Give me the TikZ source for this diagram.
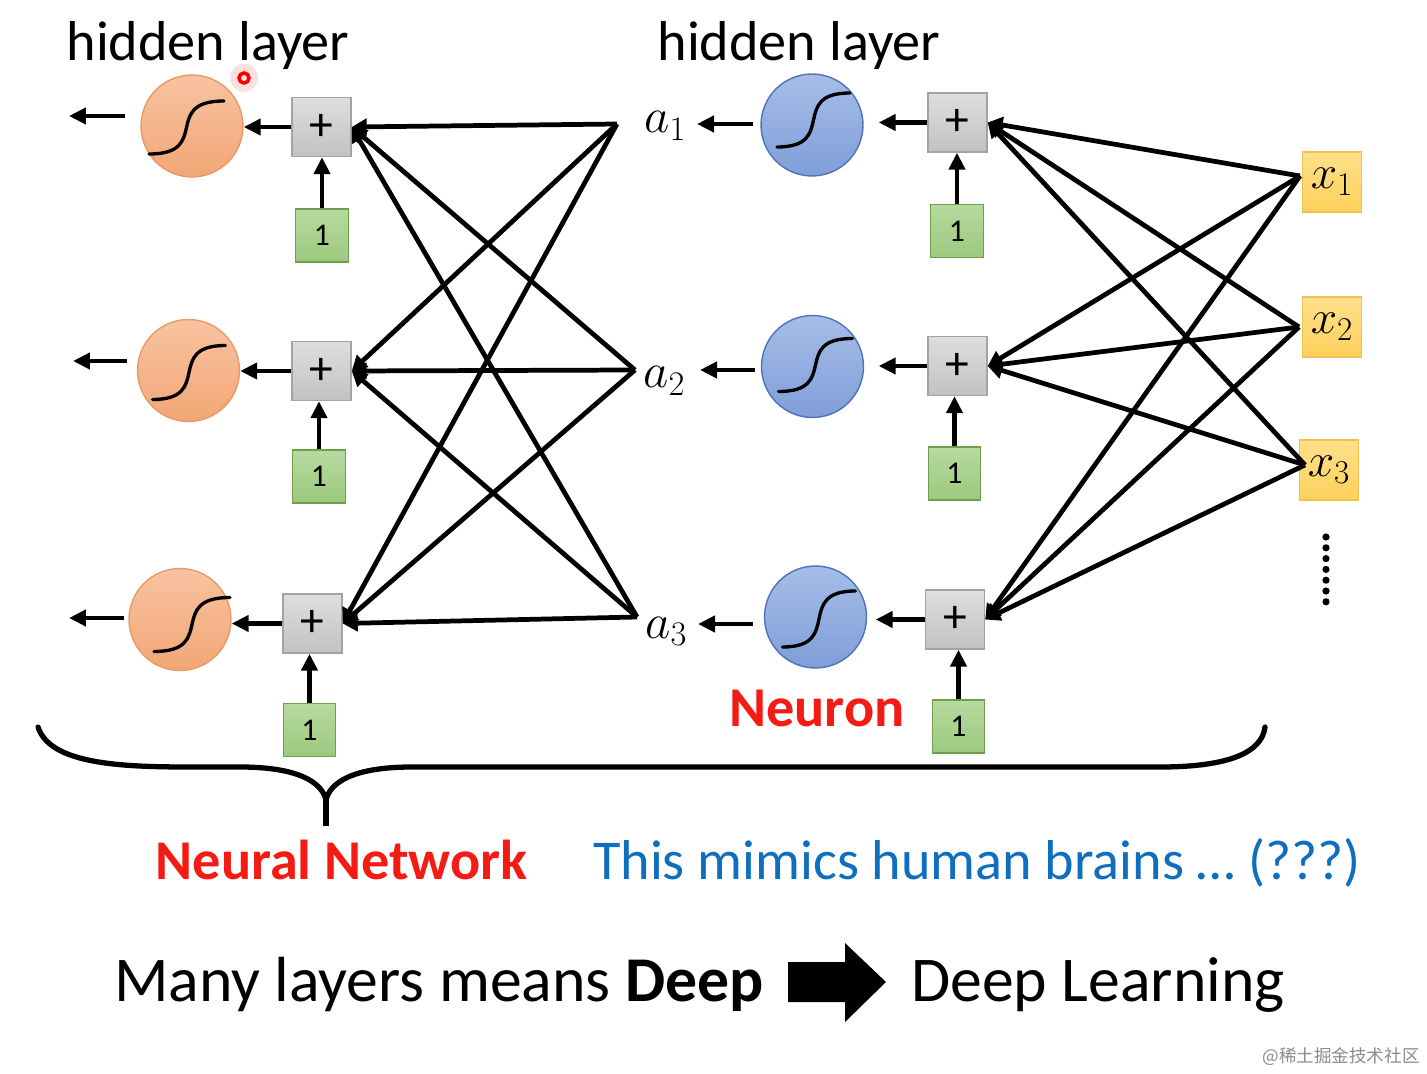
\documentclass[tikz,border=0pt]{standalone}
\usepackage{fix-cm}
\usepackage{fontspec}
\setmainfont{Carlito}
\newfontfamily\cjk{Noto Sans CJK SC}
\usetikzlibrary{arrows.meta,calc}
\definecolor{ortop}{HTML}{F8C3A0}
\definecolor{orbot}{HTML}{F2A676}
\definecolor{orline}{HTML}{E59A68}
\definecolor{bltop}{HTML}{A6BDE8}
\definecolor{blbot}{HTML}{7F9ED8}
\definecolor{blline}{HTML}{4F72B8}
\definecolor{grtop}{HTML}{DEDEDE}
\definecolor{grbot}{HTML}{C2C2C2}
\definecolor{grline}{HTML}{A3A3A3}
\definecolor{gntop}{HTML}{B7DAA0}
\definecolor{gnbot}{HTML}{9CC97E}
\definecolor{gnline}{HTML}{6E9F4C}
\definecolor{yetop}{HTML}{FFE08A}
\definecolor{yebot}{HTML}{FDD05C}
\definecolor{yeline}{HTML}{EEC150}
\definecolor{redtxt}{HTML}{F31B14}
\definecolor{bluetxt}{HTML}{0E6FBE}
\newcommand\sigcurve[5]{%
  \pgfmathsetmacro\sgw{(#4)-(#2)}%
  \draw[sigline,shift={(#1)}] (#2,#3) .. controls ({#2+0.84*\sgw},#3) and ({#4-0.84*\sgw},#5) .. (#4,#5);}
\begin{document}
\begin{tikzpicture}[x=0.02cm,y=-0.02cm,
  sigo/.style={circle,draw=orline,line width=0.8pt,top color=ortop,bottom color=orbot,minimum size=2.04cm,inner sep=0pt},
  sigb/.style={circle,draw=blline,line width=0.8pt,top color=bltop,bottom color=blbot,minimum size=2.04cm,inner sep=0pt},
  plusbox/.style={draw=grline,line width=0.8pt,top color=grtop,bottom color=grbot,minimum width=1.18cm,minimum height=1.18cm,inner sep=0pt,font=\fontsize{27}{27}\selectfont},
  biasbox/.style={draw=gnline,line width=0.8pt,top color=gntop,bottom color=gnbot,minimum width=1.05cm,minimum height=1.06cm,inner sep=0pt,font=\fontsize{18}{18}\selectfont},
  xbox/.style={draw=yeline,line width=0.8pt,top color=yetop,bottom color=yebot,minimum width=1.18cm,minimum height=1.2cm,inner sep=0pt,font=\fontsize{27}{27}\selectfont},
  conn/.style={line width=2.7pt,-{Triangle[length=0.3cm,width=0.32cm]}},
  arr/.style={line width=2.8pt,-{Triangle[length=0.34cm,width=0.32cm]}},
  sigline/.style={line width=1.9pt,line cap=round},
  lbl/.style={font=\fontsize{32}{37}\selectfont,inner sep=0pt,anchor=base},
  mlbl/.style={font=\fontsize{28}{28}\selectfont,inner sep=0pt,anchor=base west},
  brace/.style={line width=3pt}
]
\useasboundingbox (0,0) rectangle (1427,1074);
\fill[white] (0,0) rectangle (1427,1074);

% ---- titles
\node[lbl] (t1) at (208,61) {hidden layer};
\node[lbl] (t2) at (799,61) {hidden layer};
% laser pointer dot
\fill[red!12] (244,78) circle (14);
\draw[red,line width=2pt] (244,78) circle (5);

% ---- left layer
\node[sigo] (Lc1) at (192,126) {};
\node[sigo] (Lc2) at (188.5,370.5) {};
\node[sigo] (Lc3) at (180,619.5) {};
\sigcurve{Lc1}{-43}{28}{32}{-25}
\sigcurve{Lc2}{-36}{29}{37}{-25}
\sigcurve{Lc3}{-26}{32}{50}{-22}
\node[plusbox] (Lp1) at (321.5,127) {+};
\node[plusbox] (Lp2) at (321.5,371) {+};
\node[plusbox] (Lp3) at (312.5,623.5) {+};
\node[biasbox] (Lb1) at (322,235.5) {1};
\node[biasbox] (Lb2) at (319,476.5) {1};
\node[biasbox] (Lb3) at (309.5,730) {1};
\coordinate (Lo1s) at (125,116); \coordinate (Lo1e) at (69,116);
\coordinate (Lo2s) at (127,361); \coordinate (Lo2e) at (73,361);
\coordinate (Lo3s) at (124,618); \coordinate (Lo3e) at (69,618);
\draw[arr] (Lo1s) -- (Lo1e);
\draw[arr] (Lo2s) -- (Lo2e);
\draw[arr] (Lo3s) -- (Lo3e);
\foreach \i in {1,2,3}{
  \draw[arr] (Lp\i.west) -- (Lp\i.west -| Lc\i.east);
  \draw[arr] (Lb\i.north) -- (Lb\i.north |- Lp\i.south);
}

% ---- middle layer
\coordinate (A1) at (617,124);
\coordinate (A2) at (635,370);
\coordinate (A3) at (637,617);
\node[mlbl] (a1) at (644,133) {$a_1$};
\node[mlbl] (a2) at (643,388) {$a_2$};
\node[mlbl] (a3) at (645,638) {$a_3$};
\foreach \i in {1,2,3}{\foreach \j in {1,2,3}{
  \draw[conn] (A\i) -- (Lp\j.east);
}}
\node[sigb] (Mc1) at (812,125) {};
\node[sigb] (Mc2) at (812.5,366.5) {};
\node[sigb] (Mc3) at (815.5,617) {};
\sigcurve{Mc1}{-35}{22}{38}{-32}
\sigcurve{Mc2}{-34}{25}{40}{-28}
\sigcurve{Mc3}{-33}{30}{40}{-26}
\coordinate (Ma1s) at (753,124); \coordinate (Ma1e) at (697,124);
\coordinate (Ma2s) at (755,370); \coordinate (Ma2e) at (700,370);
\coordinate (Ma3s) at (753,624); \coordinate (Ma3e) at (698,624);
\draw[arr] (Ma1s) -- (Ma1e);
\draw[arr] (Ma2s) -- (Ma2e);
\draw[arr] (Ma3s) -- (Ma3e);
\node[plusbox] (Mp1) at (957.5,122.5) {+};
\node[plusbox] (Mp2) at (957.5,366) {+};
\node[plusbox] (Mp3) at (955,619.5) {+};
\node[biasbox] (Mb1) at (957,231) {1};
\node[biasbox] (Mb2) at (954.5,473.5) {1};
\node[biasbox] (Mb3) at (958.5,726.5) {1};
\draw[arr,shorten >=0.3cm] (Mp1.west) -- (Mp1.west -| Mc1.east);
\draw[arr,shorten >=0.29cm] (Mp2.west) -- (Mp2.west -| Mc2.east);
\draw[arr,shorten >=0.17cm] (Mp3.west) -- (Mp3.west -| Mc3.east);
\foreach \i in {1,2,3}{
  \draw[arr] (Mb\i.north) -- (Mb\i.north |- Mp\i.south);
}
\node[font=\bfseries\fontsize{32}{37}\selectfont,text=redtxt,inner sep=0pt,anchor=base] (neuron) at (817,726) {Neuron};

% ---- inputs
\node[xbox] (X1) at (1332,182) {$x_1$};
\node[xbox] (X2) at (1332,327) {$x_2$};
\node[xbox] (X3) at (1329,470) {$x_3$};
\coordinate (X1p) at (1300,176);
\coordinate (X2p) at (1299,327);
\coordinate (X3p) at (1305,465);
\foreach \i in {1,2,3}{\foreach \j in {1,2,3}{
  \draw[conn] (X\i p) -- (Mp\j.east);
}}
\foreach \k in {0,...,6}{
  \fill (1326,537+10.8*\k) circle (3.6);
}

% ---- brace
\draw[brace,line cap=round] (38,727) .. controls (50,764) and (120,767) .. (190,767) -- (240,767)
   .. controls (300,767) and (322,783) .. (326,800);
\draw[brace,line cap=round] (326,800) .. controls (330,783) and (352,767) .. (412,767) -- (1160,767)
   .. controls (1230,767) and (1262,752) .. (1265,727);
\draw[brace] (326,798) -- (326,826);

% ---- bottom texts
\node[lbl,font=\bfseries\fontsize{32}{37}\selectfont,text=redtxt] (nn) at (341.5,879) {Neural Network};
\node[lbl,text=bluetxt] (mimic) at (977,879) {This mimics human brains … (???)};
\node[lbl,font=\fontsize{36.3}{40}\selectfont] (many) at (439,1001) {Many layers means \textbf{Deep}};
\node[lbl,font=\fontsize{36.3}{40}\selectfont] (dl) at (1098,1001) {Deep Learning};
\fill (788,962) -- (845,962) -- (845,943) -- (886,982) -- (845,1022) -- (845,1002) -- (788,1002) -- cycle;

% watermark
\node[font=\cjk\fontsize{10}{12}\selectfont,text=black!45,inner sep=0pt] (wm) at (1341,1057) {@稀土掘金技术社区};
\end{tikzpicture}
\end{document}
